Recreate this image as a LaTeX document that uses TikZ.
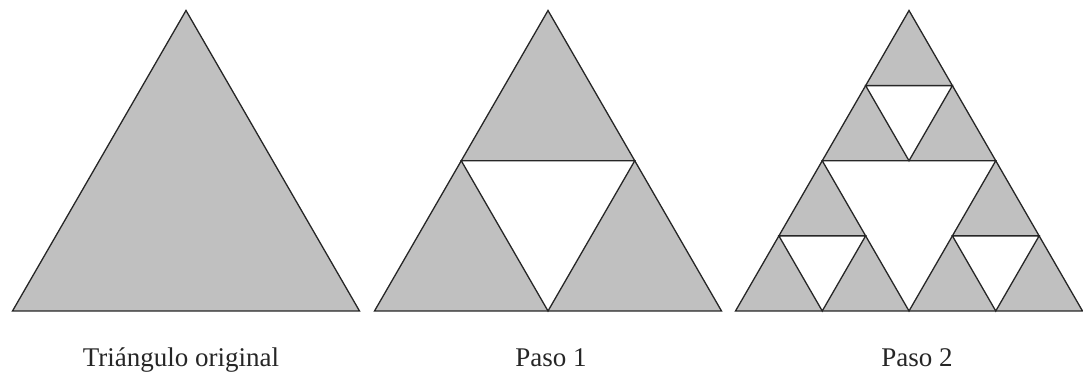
\documentclass[tikz,border=0pt]{standalone}
\usepackage{fontspec}
\setmainfont{Liberation Serif}
\definecolor{Shade}{HTML}{C0C0C0}
\definecolor{Edge}{HTML}{262626}

\begin{document}
\begin{tikzpicture}[x=1pt,y=1pt,
    tri/.style={fill=Shade,draw=Edge,line width=1.3pt},
    hole/.style={fill=white,draw=Edge,line width=1.3pt},
    lbl/.style={anchor=base,text=black!85,font=\fontsize{27}{32}\selectfont}]
  \useasboundingbox (0,0) rectangle (1083,374);
  % full triangles
  \foreach \x in {12.5,374.5,735.5}
    \draw[tri] (\x,63) -- ++(347,0) -- ++(-173.5,300.5) -- cycle;
  % first cut
  \foreach \x in {374.5,735.5}
    \draw[hole] (\x+86.75,213.25) -- ++(173.5,0) -- ++(-86.75,-150.25) -- cycle;
  % second cut
  \foreach \x/\y in {735.5/63,909/63,822.25/213.25}
    \draw[hole] (\x+43.375,\y+75.125) -- ++(86.75,0) -- ++(-43.375,-75.125) -- cycle;
  \node[lbl] (orig) at (181,7) {Triángulo original};
  \node[lbl] (paso1) at (551,7) {Paso 1};
  \node[lbl] (paso2) at (917,7) {Paso 2};
\end{tikzpicture}
\end{document}
